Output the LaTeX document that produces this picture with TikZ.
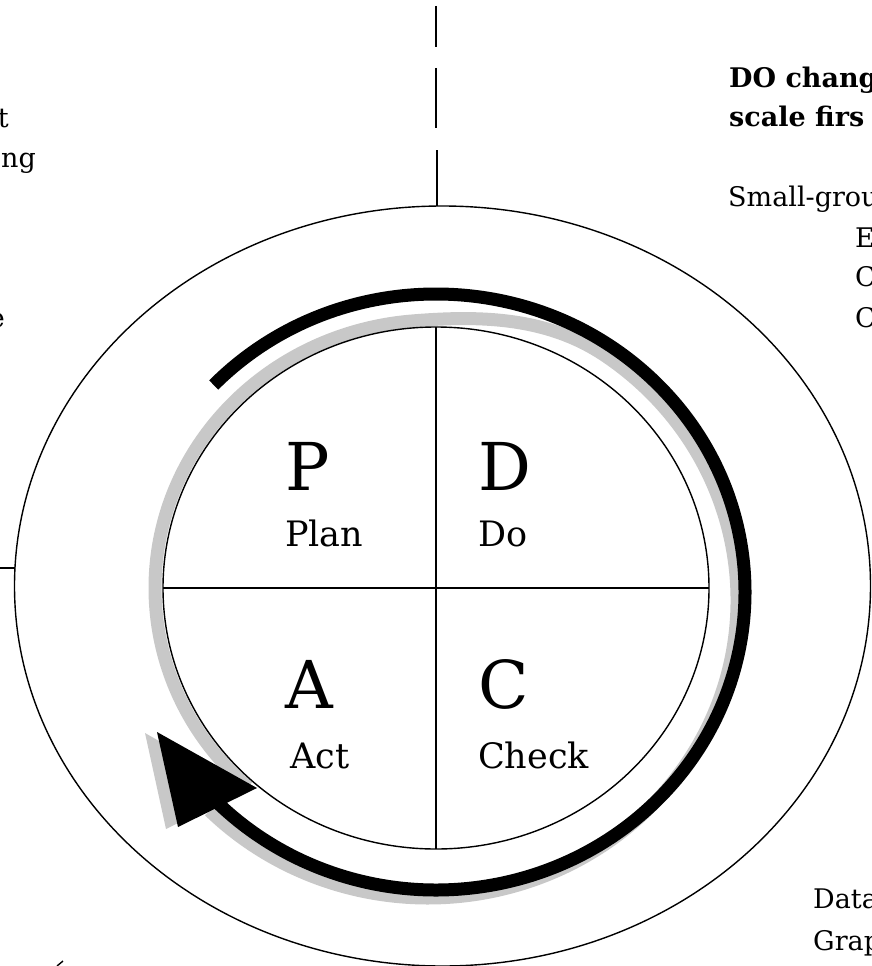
\documentclass[tikz,border=0pt]{standalone}
\usepackage{fontspec}
\setmainfont{DejaVu Serif}
\definecolor{shadowgray}{RGB}{200,200,200}
\begin{document}
\begin{tikzpicture}[x=1pt,y=1pt,line join=round,
  thinline/.style={line width=1.4},
  bigletter/.style={inner sep=0pt,anchor=base west,font=\fontsize{66}{66}\selectfont},
  wordlabel/.style={inner sep=0pt,anchor=base west,font=\fontsize{35}{35}\selectfont},
  sidetext/.style={inner sep=0pt,font=\fontsize{27}{32}\selectfont},
  sidebold/.style={inner sep=0pt,anchor=base west,font=\fontsize{27}{32}\selectfont\bfseries}]
\useasboundingbox (0,0) rectangle (871,-966);
\clip (0,0) rectangle (871,-966);

% gray shadow band: along the inner circle on the left, then under the black arc
\draw[shadowgray,line width=13] ([shift={(228:281 and 268)}]436,-588)
  arc[start angle=228,end angle=95,x radius=281,y radius=268]
  to[out=4.8,in=146,looseness=0.9] ([shift={(55:309 and 298)}]428,-600)
  arc[start angle=55,end angle=-135,x radius=309,y radius=298];
% gray shadow of the arrowhead
\fill[shadowgray] (145,-733) -- (245,-790) -- (166,-829) -- cycle;

% outer ellipse
\draw[thinline] (442.5,-586) ellipse[x radius=428,y radius=380];
% inner circle with cross
\draw[thinline] (436,-588) ellipse[x radius=273,y radius=261];
\draw[thinline] (436,-327) -- (436,-849);
\draw[thinline] (163,-588) -- (709,-588);

% dashed vertical line at the top
\draw[line width=2.5] (436,-6) -- (436,-47) (436,-68) -- (436,-128) (437,-150) -- (437,-206);
% left tick
\draw[thinline] (0,-568) -- (15,-568);
% small mark at bottom left
\draw[thinline] (57,-966) -- (63,-961);

% black cycle arrow
\draw[line width=13] ([shift={(136:309 and 298)}]436,-592)
  arc[start angle=136,end angle=-135,x radius=309,y radius=298];
\fill (157,-732) -- (257,-788) -- (178,-827) -- cycle;

% PDCA letters
\node[bigletter] (p) at (285,-490) {P};
\node[wordlabel] (plan) at (285,-546) {Plan};
\node[bigletter] (d) at (478,-490) {D};
\node[wordlabel] (do) at (478,-546) {Do};
\node[bigletter] (a) at (285,-708) {A};
\node[wordlabel] (act) at (290,-768) {Act};
\node[bigletter] (c) at (478,-708) {C};
\node[wordlabel] (check) at (478,-768) {Check};

% clipped side texts (left)
\node[sidetext,anchor=base east] (lt1) at (9,-127) {t};
\node[sidetext,anchor=base east] (lt2) at (36,-167) {ng};
\node[sidetext,anchor=base east] (lt3) at (5,-327) {e};

% clipped side texts (right)
\node[sidebold] (rt1) at (729,-88) {DO chang};
\node[sidebold] (rt2) at (729,-126) {scale firs};
\node[sidetext,anchor=base west] (rt3) at (728,-206) {Small-grou};
\node[sidetext,anchor=base west] (rt4) at (855,-247) {E};
\node[sidetext,anchor=base west] (rt5) at (855,-286) {C};
\node[sidetext,anchor=base west] (rt6) at (855,-327) {C};
\node[sidetext,anchor=base west] (rb1) at (813,-908) {Data};
\node[sidetext,anchor=base west] (rb2) at (813,-950) {Grap};
\end{tikzpicture}
\end{document}
